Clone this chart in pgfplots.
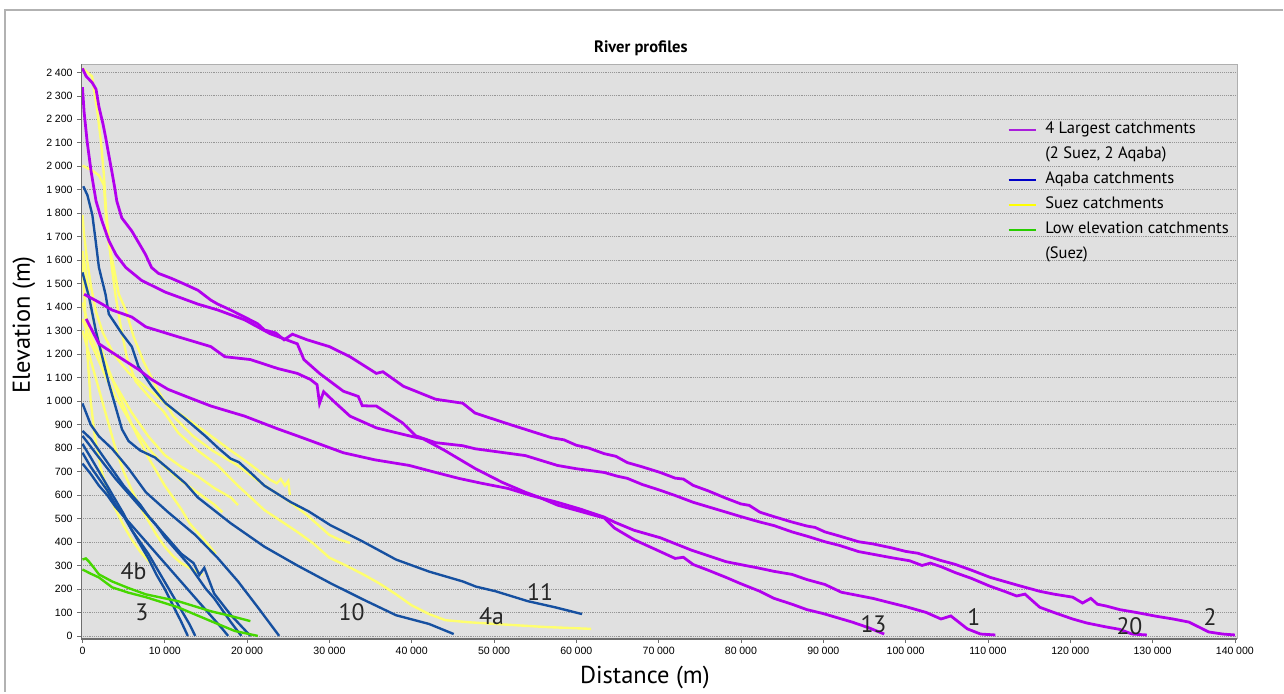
\documentclass[border=0pt]{standalone}
\usepackage{pgfplots}
\pgfplotsset{compat=1.18}
\usepackage{fontspec}
\setmainfont{PT Sans}
\newfontfamily\tickfont{Liberation Sans}
\definecolor{mag}{RGB}{178,0,238}
\definecolor{blu}{RGB}{22,80,160}
\definecolor{yel}{RGB}{255,255,110}
\definecolor{grn}{RGB}{70,215,0}
\definecolor{legmag}{RGB}{170,30,220}
\definecolor{legblu}{RGB}{0,0,200}
\definecolor{legyel}{RGB}{255,255,0}
\definecolor{leggrn}{RGB}{40,205,0}
\definecolor{bg}{RGB}{224,224,224}
\definecolor{gridc}{RGB}{150,150,150}
\definecolor{axdark}{RGB}{110,110,110}
\definecolor{axlight}{RGB}{175,175,175}
\begin{document}
\begin{tikzpicture}
\begin{axis}[
  at={(0,0)}, anchor=south west,
  scale only axis, width=875.25pt, height=435pt,
  xmin=-150, xmax=140300, ymin=-13, ymax=2434,
  clip=false,
  axis background/.style={fill=bg},
  axis line style={draw=none},
  xtick={0,10000,...,140000},
  ytick={0,100,...,2400},
  tick align=outside, major tick length=3pt,
  xtick pos=bottom, ytick pos=left,
  tick style={color=axdark, line width=0.5pt},
  ymajorgrids,
  grid style={densely dotted, color=gridc, line width=0.6pt},
  scaled x ticks=false, scaled y ticks=false,
  /pgf/number format/fixed,
  /pgf/number format/1000 sep={\hspace{0.25em}},
  /pgf/number format/assume math mode=true,
  ticklabel style={font=\tickfont\fontsize{8}{9}\selectfont},
  title={River profiles},
  title style={font=\bfseries\fontsize{12.5}{14}\selectfont, at={(axis description cs:0.484,1.007)}, anchor=base},
  xlabel={Distance (m)},
  xlabel style={font=\fontsize{18.5}{21}\selectfont, at={(axis description cs:0.4876,-0.0776)}, anchor=base},
  ylabel={Elevation (m)},
  ylabel style={font=\fontsize{18.5}{21}\selectfont, at={(axis description cs:-0.0445,0.5466)}, anchor=base},
  legend style={at={(axis description cs:0.7976,0.91)}, anchor=north west, draw=none, fill=none,
    font=\fontsize{12.5}{15}\selectfont, cells={anchor=base west}, row sep=4.6pt},
  legend image code/.code={\draw[#1] (0pt,0.25em) -- (21pt,0.25em); \path (25pt,0.25em);},
]
\addlegendimage{legmag, line width=1.6pt}
\addlegendentry{4 Largest catchments}
\addlegendimage{empty legend}
\addlegendentry{(2 Suez, 2 Aqaba)}
\addlegendimage{legblu, line width=1.6pt}
\addlegendentry{Aqaba catchments}
\addlegendimage{legyel, line width=1.6pt}
\addlegendentry{Suez catchments}
\addlegendimage{leggrn, line width=1.6pt}
\addlegendentry{Low elevation catchments}
\addlegendimage{empty legend}
\addlegendentry{(Suez)}

% Suez (yellow)
\addplot[yel, line width=1.8pt, forget plot] coordinates {(0,2417)(1170,2383)(1770,2244)(2250,2105)(2610,1961)(2850,1822)(3210,1683)(3570,1569)(4050,1443)(4660,1316)(5380,1189)(6460,1084)(8030,1021)(9830,957)(11640,865)(14030,789)(16440,726)(18850,641)(22100,536)(26100,443)(28000,395)(30000,333)(32000,300)(34100,262)(36000,225)(38100,177)(40000,130)(42100,93)(44100,67)(47000,58)(50100,51)(56200,38)(61800,30)};
\addplot[yel, line width=1.8pt, forget plot] coordinates {(0,2003)(1170,1982)(2010,1961)(2610,1919)(2850,1793)(3210,1666)(3810,1569)(4420,1455)(5260,1388)(6220,1274)(7420,1168)(9230,1042)(11040,936)(13400,852)(15800,789)(18850,726)(22100,641)(24900,578)(27300,514)(30000,430)(31200,410)(32500,396)};
\addplot[yel, line width=1.8pt, forget plot] coordinates {(0,1793)(200,1708)(570,1599)(1050,1485)(1650,1380)(2490,1290)(3800,1200)(5620,1120)(8030,1050)(10400,980)(12500,930)(14900,870)(18000,790)(20400,730)(22800,665)(23600,650)(24100,668)(24600,640)(25000,660)(25200,600)};
\addplot[yel, line width=1.8pt, forget plot] coordinates {(0,1640)(400,1550)(800,1450)(1300,1350)(2000,1250)(3000,1150)(4000,1060)(5000,980)(6000,900)(7000,830)(8000,760)(9000,700)(10000,640)(11000,590)(12000,540)(13000,480)(14000,440)(15000,400)(16200,350)};
\addplot[yel, line width=1.8pt, forget plot] coordinates {(0,1420)(500,1350)(1000,1280)(2000,1200)(3000,1130)(4000,1070)(5000,1010)(6000,950)(8000,850)(10000,770)(12000,720)(14000,680)(16000,630)(18000,590)(18900,557)};
\addplot[yel, line width=1.8pt, forget plot] coordinates {(0,1350)(1000,1250)(2000,1170)(3000,1090)(4000,1020)(5000,960)(6000,900)(8000,800)(10000,720)(12000,660)(14000,610)(16000,560)(17000,527)};
\addplot[yel, line width=1.8pt, forget plot] coordinates {(0,1300)(800,1200)(1600,1100)(2400,1000)(3200,900)(4000,800)(5000,700)(6000,620)(7000,550)(8000,490)(9000,430)(10000,380)(11000,340)(12000,310)(13000,290)(14600,260)};
\addplot[yel, line width=1.8pt, forget plot] coordinates {(0,1600)(300,1400)(600,1200)(1000,1000)(1500,850)(2200,720)(3000,620)(4000,540)(5000,470)(6000,410)(7000,360)(8500,300)};

% Aqaba (blue)
\addplot[blu, line width=1.8pt, forget plot] coordinates {(100,1915)(600,1877)(1200,1793)(1600,1683)(2000,1569)(2800,1455)(3200,1371)(4800,1287)(6000,1232)(6800,1147)(8400,1063)(10100,991)(12500,924)(14900,852)(16500,800)(18000,755)(19000,740)(20400,696)(22100,640)(25300,570)(27500,530)(30100,472)(34100,401)(38100,325)(42100,274)(46200,232)(47800,210)(50200,190)(54100,148)(57400,122)(60700,93)};
\addplot[blu, line width=1.8pt, forget plot] coordinates {(0,1548)(800,1443)(1600,1303)(2400,1189)(3200,1076)(4100,966)(4800,880)(5600,830)(7000,790)(8800,760)(10500,710)(12500,650)(14000,590)(18000,480)(22100,380)(26100,300)(30100,225)(34100,155)(38100,88)(42100,51)(45100,8)};
\addplot[blu, line width=1.8pt, forget plot] coordinates {(0,990)(1000,900)(2000,850)(3600,797)(5600,713)(7700,612)(10400,527)(13700,430)(16400,333)(18900,232)(21300,122)(23900,0)};
\addplot[blu, line width=1.8pt, forget plot] coordinates {(0,873)(1000,840)(2000,790)(3000,740)(4000,690)(5000,640)(6000,600)(7000,560)(8000,510)(9000,470)(10000,420)(11000,380)(12000,340)(13000,300)(14000,250)(15000,200)(16000,160)(17000,110)(18000,60)(19300,0)};
\addplot[blu, line width=1.8pt, forget plot] coordinates {(0,852)(2000,760)(4000,670)(6000,590)(8000,510)(10000,430)(12000,350)(13500,310)(14200,260)(14800,290)(16000,180)(18000,90)(20400,0)};
\addplot[blu, line width=1.8pt, forget plot] coordinates {(0,818)(1000,760)(2000,700)(3000,640)(4000,580)(5000,520)(6000,450)(7000,390)(8000,330)(9000,260)(10000,200)(11000,130)(12000,60)(12800,0)};
\addplot[blu, line width=1.8pt, forget plot] coordinates {(0,780)(1000,720)(2000,670)(3000,620)(4000,560)(5000,510)(6000,450)(7000,400)(8000,350)(9000,290)(10000,230)(11000,170)(12000,110)(13000,50)(13700,0)};
\addplot[blu, line width=1.8pt, forget plot] coordinates {(0,734)(1000,690)(2000,640)(3000,600)(4000,550)(5000,510)(6000,470)(7000,430)(8000,390)(9000,350)(10000,310)(11000,270)(12000,230)(13000,190)(14000,150)(15000,110)(16000,70)(17000,30)(17700,0)};

% Low elevation (green)
\addplot[grn, line width=1.8pt, forget plot] coordinates {(0,325)(400,330)(800,316)(1400,290)(2000,262)(3600,232)(5500,205)(7700,177)(11600,148)(15600,105)(18000,85)(20400,63)};
\addplot[grn, line width=1.8pt, forget plot] coordinates {(0,283)(1000,265)(2000,249)(3600,207)(5500,185)(7700,165)(11600,122)(15600,63)(18500,21)(21300,0)};

% 4 largest (magenta)
\addplot[mag, line width=2.1pt, forget plot] coordinates {(0,2417)(450,2383)(1170,2357)(1650,2328)(2010,2252)(2490,2181)(2850,2117)(3210,2046)(3570,1978)(3930,1906)(4170,1852)(4780,1780)(5980,1725)(6820,1675)(7670,1624)(8390,1569)(9230,1544)(10790,1523)(12480,1497)(14030,1472)(15600,1430)(16440,1413)(18000,1388)(19700,1358)(21300,1329)(22100,1303)(23500,1290)(24500,1261)(25500,1285)(27300,1261)(30000,1232)(32500,1189)(35700,1118)(36500,1125)(39000,1063)(42900,1008)(46200,991)(47700,949)(51700,903)(57000,844)(58500,835)(60000,812)(61500,800)(63400,776)(64800,765)(66200,738)(68000,720)(70200,696)(72000,672)(73000,668)(74200,641)(76000,618)(78200,586)(80000,562)(81000,556)(82300,527)(84000,508)(86200,485)(88000,468)(89000,462)(90200,443)(92000,425)(94300,401)(96000,392)(98300,375)(100000,360)(101500,352)(104300,321)(106000,305)(108000,280)(110300,249)(112000,232)(114000,212)(116300,190)(118000,178)(120300,165)(121500,140)(122500,160)(123300,135)(124400,127)(126000,112)(128000,100)(130400,84)(132500,72)(134400,59)(135800,35)(136800,17)(138500,8)(140000,4)};
\addplot[mag, line width=2.1pt, forget plot] coordinates {(0,2337)(200,2231)(570,2105)(1050,1978)(1650,1852)(2370,1767)(3210,1683)(4060,1624)(5260,1569)(7180,1514)(10070,1464)(14030,1413)(16440,1388)(19700,1346)(22800,1287)(26100,1244)(26900,1177)(28800,1118)(31700,1042)(33500,1020)(34000,980)(35700,979)(38900,907)(40500,852)(42900,823)(46200,810)(47700,797)(53800,768)(57700,726)(60000,712)(61500,705)(63400,696)(65000,680)(66200,671)(68000,645)(70200,620)(72000,598)(74200,569)(76000,550)(78200,527)(80000,508)(82300,485)(84000,470)(86200,443)(88000,425)(90200,401)(92000,385)(94300,359)(96000,348)(98300,333)(100500,320)(102000,300)(103000,310)(104300,295)(106000,270)(108000,245)(110300,211)(112000,190)(113500,170)(114500,178)(116300,122)(118000,100)(120300,72)(122000,55)(124400,38)(126000,28)(127500,8)(129300,4)};
\addplot[mag, line width=2.1pt, forget plot] coordinates {(200,1455)(2000,1421)(3600,1388)(6000,1358)(7700,1316)(11600,1274)(15600,1232)(17300,1189)(20400,1177)(23700,1139)(26100,1118)(27700,1092)(28500,1070)(28800,990)(29300,1040)(30500,1000)(32500,936)(35700,886)(39700,852)(41400,839)(44000,790)(47700,713)(51000,654)(53800,612)(55500,590)(57700,557)(60000,535)(63400,502)(64600,460)(67000,410)(70200,359)(72000,330)(73000,335)(74200,304)(76000,280)(78200,249)(80000,222)(82300,190)(84000,160)(86200,135)(88000,112)(90000,95)(93500,59)(95500,35)(97400,8)};
\addplot[mag, line width=2.1pt, forget plot] coordinates {(450,1350)(2000,1244)(4400,1189)(6800,1135)(8400,1092)(10400,1050)(12500,1021)(15600,979)(19700,936)(23700,882)(26100,852)(31700,780)(35500,750)(39700,726)(42500,700)(45700,671)(48500,650)(51700,628)(54500,598)(57700,569)(60500,540)(63400,506)(64600,485)(67000,450)(70200,418)(74000,365)(78200,316)(80500,300)(82000,290)(84000,275)(86200,262)(88000,240)(90200,219)(92200,186)(96000,160)(100300,122)(102500,100)(104300,72)(105500,85)(107500,30)(109100,8)(110900,4)};

% labels
\node[font=\fontsize{18}{20}\selectfont, text=black!85] at (axis cs:6200,274) {4b};
\node[font=\fontsize{18}{20}\selectfont, text=black!85] at (axis cs:7200,101) {3};
\node[font=\fontsize{18}{20}\selectfont, text=black!85] at (axis cs:32700,101) {10};
\node[font=\fontsize{18}{20}\selectfont, text=black!85] at (axis cs:49700,84) {4a};
\node[font=\fontsize{18}{20}\selectfont, text=black!85] at (axis cs:55600,186) {11};
\node[font=\fontsize{18}{20}\selectfont, text=black!85] at (axis cs:96100,51) {13};
\node[font=\fontsize{18}{20}\selectfont, text=black!85] at (axis cs:108300,80) {1};
\node[font=\fontsize{18}{20}\selectfont, text=black!85] at (axis cs:127200,42) {20};
\node[font=\fontsize{18}{20}\selectfont, text=black!85] at (axis cs:137000,80) {2};

% frame of plot area
\draw[axlight, line width=1pt] (rel axis cs:0,1) -- (rel axis cs:1,1) -- (rel axis cs:1,0);
\draw[axdark, line width=1pt] (rel axis cs:0,1) -- (rel axis cs:0,0) -- (rel axis cs:1,0);
\end{axis}
\draw[black!30, line width=1.2pt] (-57.75pt,-40pt) -- (-57.75pt,476.25pt) -- (910pt,476.25pt);
\path[use as bounding box] (-61.5pt,-32.25pt) rectangle (901.5pt,483.75pt);
\end{tikzpicture}
\end{document}
